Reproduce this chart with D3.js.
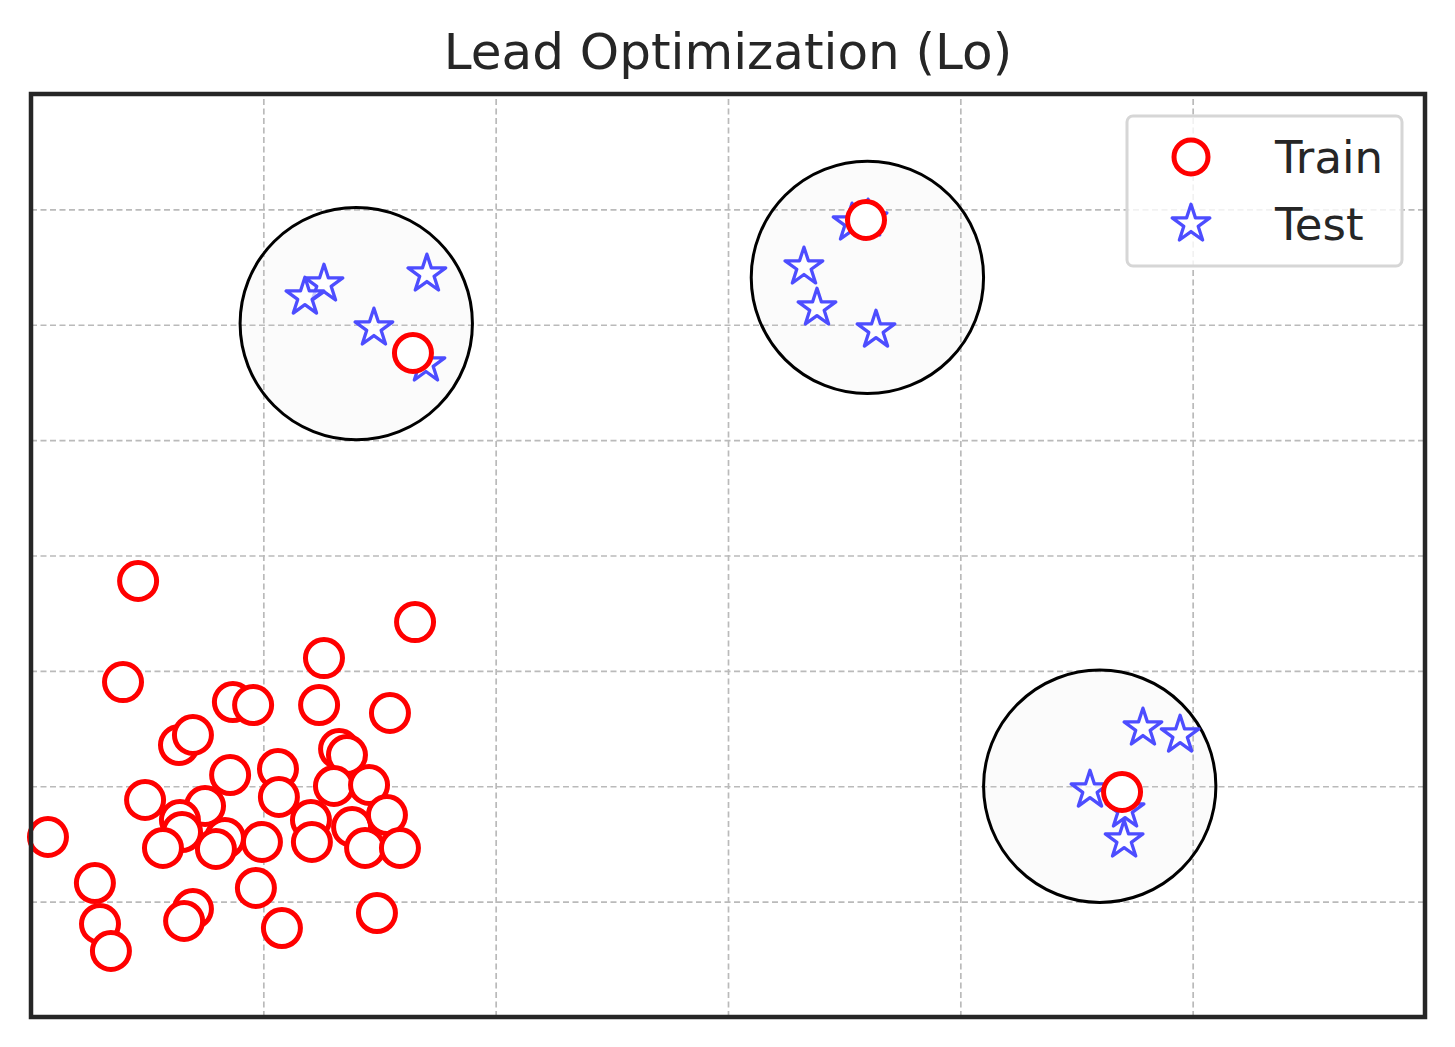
<!DOCTYPE html>
<html>
<head>
<meta charset="utf-8">
<script src="https://cdn.jsdelivr.net/npm/d3@7"></script>
<style>
  body { margin: 0; background: #fff; }
  text { font-family: "DejaVu Sans", sans-serif; fill: #262626; }
</style>
</head>
<body>
<div class="chart"></div>
<script>
var svgWidth = 1455;
var svgHeight = 1047;

var margin = { top: 94, right: 30, bottom: 30, left: 31 };
var width = svgWidth - margin.left - margin.right;
var height = svgHeight - margin.top - margin.bottom;

// data
var trainX = [0.461, 0.396, 1.653, 1.261, 0.869, 0.956, 1.240, 1.545, 0.637, 0.697,
  1.326, 1.360, 0.857, 1.063, 1.067, 1.304, 1.455, 0.491, 0.749, 0.641,
  0.650, 0.835, 0.568, 0.796, 0.073, 0.994, 1.205, 1.209, 1.382, 1.438,
  1.532, 1.588, 0.275, 0.297, 0.344, 0.697, 0.659, 0.968, 1.080, 1.489,
  1.644, 3.594, 4.696];
var trainY = [3.779, 2.903, 3.423, 3.111, 2.730, 2.704, 2.704, 2.635, 2.357, 2.444,
  2.323, 2.271, 2.097, 2.150, 1.907, 2.002, 2.011, 1.881, 1.829, 1.707,
  1.603, 1.551, 1.465, 1.456, 1.560, 1.517, 1.707, 1.517, 1.647, 1.465,
  1.751, 1.465, 1.161, 0.806, 0.572, 0.936, 0.832, 1.118, 0.771, 0.901,
  5.755, 6.908, 1.950];

var testX = [1.261, 1.179, 1.704, 1.476, 1.700,
  3.534, 3.603, 3.327, 3.383, 3.637,
  4.786, 4.946, 4.558, 4.709, 4.705];
var testY = [6.353, 6.240, 6.440, 5.972, 5.660,
  6.882, 6.917, 6.501, 6.145, 5.954,
  2.505, 2.444, 1.967, 1.794, 1.534];

var clusterX = [1.4, 3.6, 4.6];
var clusterY = [6.01, 6.41, 2.0];
var clusterR = [0.5, 0.5, 0.5];

var xTicks = [1, 2, 3, 4, 5];
var yTicks = [1, 2, 3, 4, 5, 6, 7];
var legendLabels = ["Train", "Test"];

var svg = d3.select(".chart")
  .append("svg")
  .attr("width", svgWidth)
  .attr("height", svgHeight);

var chartGroup = svg.append("g")
  .attr("transform", `translate(${margin.left}, ${margin.top})`);

var xScale = d3.scaleLinear().domain([0, 6]).range([0, width]);
var yScale = d3.scaleLinear().domain([0, 8]).range([height, 0]);

// dashed grid
var xGrid = chartGroup.append("g")
  .attr("transform", `translate(0, ${height})`)
  .call(d3.axisBottom(xScale).tickValues(xTicks).tickSize(-height).tickFormat(""));
var yGrid = chartGroup.append("g")
  .call(d3.axisLeft(yScale).tickValues(yTicks).tickSize(-width).tickFormat(""));
[xGrid, yGrid].forEach(function(g) {
  g.select(".domain").remove();
  g.selectAll("line")
    .attr("stroke", "#bababa")
    .attr("stroke-width", 1.7)
    .attr("stroke-dasharray", "6,3.5");
});

// cluster circles
chartGroup.selectAll("circle.cluster")
  .data(clusterX.map((d, i) => ({ x: d, y: clusterY[i], r: clusterR[i] })))
  .enter()
  .append("circle")
  .attr("class", "cluster")
  .attr("cx", d => xScale(d.x))
  .attr("cy", d => yScale(d.y))
  .attr("r", d => xScale(d.r) - xScale(0))
  .attr("fill", "#d3d3d3")
  .attr("fill-opacity", 0.1)
  .attr("stroke", "#000")
  .attr("stroke-width", 3);

var starPath = d3.symbol().type(d3.symbolStar).size(440);

// test stars
chartGroup.selectAll("path.test")
  .data(testX.map((d, i) => ({ x: d, y: testY[i] })))
  .enter()
  .append("path")
  .attr("class", "test")
  .attr("d", starPath)
  .attr("transform", d => `translate(${xScale(d.x)}, ${yScale(d.y)})`)
  .attr("fill", "#fff")
  .attr("fill-opacity", 0.7)
  .attr("stroke", "rgb(77,77,255)")
  .attr("stroke-width", 3.3)
  .attr("stroke-linejoin", "round");

// train circles
chartGroup.selectAll("circle.train")
  .data(trainX.map((d, i) => ({ x: d, y: trainY[i] })))
  .enter()
  .append("circle")
  .attr("class", "train")
  .attr("cx", d => xScale(d.x))
  .attr("cy", d => yScale(d.y))
  .attr("r", 18.5)
  .attr("fill", "#fff")
  .attr("stroke", "#ff0000")
  .attr("stroke-width", 5);

// frame
chartGroup.append("rect")
  .attr("x", 0)
  .attr("y", 0)
  .attr("width", width)
  .attr("height", height)
  .attr("fill", "none")
  .attr("stroke", "#262626")
  .attr("stroke-width", 4.5);

// title
svg.append("text")
  .attr("x", margin.left + width / 2)
  .attr("y", 69)
  .attr("text-anchor", "middle")
  .style("font-size", "50px")
  .text("Lead Optimization (Lo)");

// legend
var legend = svg.append("g").attr("transform", "translate(1127, 116)");
legend.append("rect")
  .attr("width", 275)
  .attr("height", 150)
  .attr("rx", 6)
  .attr("fill", "#fff")
  .attr("fill-opacity", 0.8)
  .attr("stroke", "#d6d6d6")
  .attr("stroke-width", 3);

var items = legend.selectAll("g.item")
  .data(legendLabels)
  .enter()
  .append("g")
  .attr("class", "item")
  .attr("transform", (d, i) => `translate(0, ${41 + i * 67})`);

items.filter((d, i) => i === 0).append("circle")
  .attr("cx", 64)
  .attr("r", 17)
  .attr("fill", "#fff")
  .attr("stroke", "#ff0000")
  .attr("stroke-width", 5);

items.filter((d, i) => i === 1).append("path")
  .attr("d", starPath)
  .attr("transform", "translate(64, 0)")
  .attr("fill", "#fff")
  .attr("fill-opacity", 0.7)
  .attr("stroke", "rgb(77,77,255)")
  .attr("stroke-width", 3.3)
  .attr("stroke-linejoin", "round");

items.append("text")
  .attr("x", 148)
  .attr("y", 16)
  .style("font-size", "45px")
  .text(d => d);
</script>
</body>
</html>
